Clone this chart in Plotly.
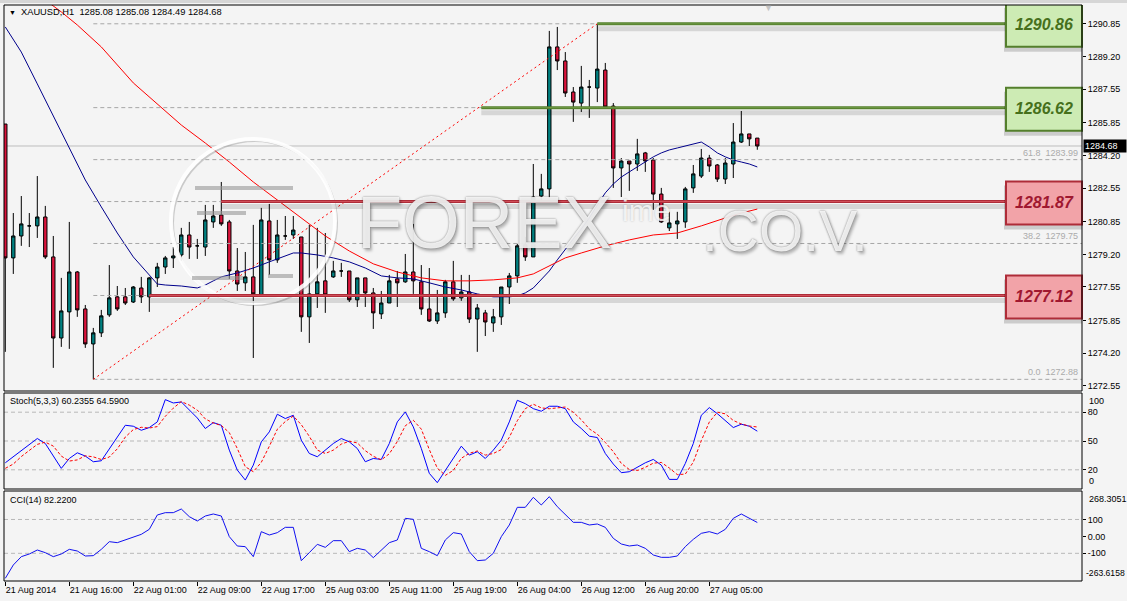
import plotly.graph_objects as go

# ---------------- data ----------------
bar_index = list(range(95))
open_ = [1285.79, 1279.02, 1280.13, 1280.64, 1280.64, 1281.09, 1279.07, 1274.97, 1276.29, 1278.31,
         1276.44, 1274.67, 1275.23, 1276.14, 1277.05, 1277.05, 1276.79, 1277.50, 1277.05, 1278.01,
         1278.56, 1279.02, 1279.17, 1280.18, 1279.63, 1279.57, 1280.84, 1281.19, 1280.84, 1278.36,
         1277.76, 1278.06, 1277.15, 1280.89, 1278.92, 1280.13, 1280.18, 1280.08, 1276.04, 1277.20,
         1277.86, 1278.06, 1278.36, 1278.36, 1276.90, 1278.01, 1277.25, 1276.19, 1276.74, 1277.96,
         1277.81, 1278.31, 1277.81, 1276.44, 1275.83, 1276.24, 1277.81, 1277.00, 1277.30, 1275.93,
         1276.24, 1275.73, 1276.04, 1277.55, 1278.11, 1279.68, 1279.07, 1282.15, 1282.51, 1289.69,
         1288.98, 1287.41, 1286.85, 1287.66, 1287.61, 1288.52, 1286.70, 1283.57, 1283.92, 1283.77,
         1284.33, 1283.97, 1282.25, 1280.54, 1280.74, 1280.84, 1282.56, 1283.16, 1284.07, 1283.72,
         1283.01, 1283.77, 1284.88, 1285.29, 1285.08]
high = [1285.79, 1281.29, 1282.15, 1281.29, 1283.16, 1281.65, 1280.13, 1278.01, 1280.84, 1278.36,
        1276.64, 1275.48, 1276.39, 1278.66, 1277.60, 1277.50, 1277.60, 1278.06, 1278.06, 1278.77,
        1279.12, 1279.57, 1280.54, 1280.84, 1279.98, 1281.70, 1281.70, 1282.86, 1280.94, 1279.52,
        1279.32, 1280.69, 1281.55, 1281.75, 1280.94, 1281.14, 1281.14, 1280.08, 1280.69, 1280.54,
        1280.28, 1278.87, 1278.77, 1278.36, 1278.01, 1278.01, 1277.50, 1277.35, 1278.16, 1278.36,
        1279.22, 1280.74, 1278.66, 1278.51, 1277.40, 1277.91, 1278.87, 1278.16, 1278.16, 1276.69,
        1276.39, 1276.44, 1277.55, 1278.26, 1279.73, 1280.08, 1283.77, 1283.27, 1290.50, 1290.70,
        1289.43, 1287.66, 1288.73, 1288.02, 1290.86, 1288.88, 1286.85, 1284.07, 1283.92, 1285.04,
        1284.38, 1284.07, 1282.56, 1281.35, 1281.35, 1282.61, 1283.72, 1284.53, 1284.23, 1283.77,
        1284.07, 1285.84, 1286.45, 1285.29, 1285.08]
low = [1274.27, 1278.21, 1279.63, 1279.57, 1280.03, 1278.97, 1273.46, 1274.52, 1274.42, 1276.04,
       1274.47, 1272.88, 1275.02, 1276.04, 1276.34, 1276.64, 1276.74, 1276.74, 1276.29, 1277.55,
       1278.21, 1278.51, 1278.87, 1278.97, 1278.97, 1279.12, 1280.54, 1280.64, 1277.96, 1277.35,
       1277.35, 1273.96, 1277.10, 1278.16, 1278.77, 1279.93, 1279.98, 1275.28, 1274.72, 1276.49,
       1276.24, 1278.01, 1278.06, 1276.79, 1276.54, 1276.54, 1275.43, 1275.93, 1276.74, 1276.54,
       1277.76, 1277.20, 1276.14, 1275.78, 1275.68, 1275.99, 1276.85, 1276.85, 1275.73, 1274.27,
       1275.07, 1275.28, 1275.63, 1276.69, 1277.76, 1278.87, 1279.07, 1281.90, 1282.05, 1288.52,
       1287.16, 1285.90, 1286.40, 1286.10, 1286.90, 1286.60, 1282.56, 1282.10, 1282.41, 1283.42,
       1283.37, 1281.45, 1280.79, 1280.38, 1279.98, 1280.54, 1282.31, 1283.06, 1283.37, 1282.86,
       1282.76, 1283.06, 1284.83, 1284.68, 1284.49]
close = [1279.02, 1280.13, 1280.74, 1280.64, 1281.09, 1279.07, 1274.97, 1276.34, 1278.31, 1276.39,
         1274.67, 1275.23, 1276.09, 1277.00, 1276.44, 1276.74, 1277.55, 1277.05, 1278.01, 1278.56,
         1279.02, 1279.12, 1280.18, 1279.57, 1279.63, 1280.94, 1281.14, 1280.74, 1278.36, 1277.70,
         1278.06, 1277.20, 1280.94, 1278.92, 1280.18, 1280.13, 1280.43, 1276.04, 1277.20, 1277.81,
         1277.15, 1278.36, 1278.36, 1276.90, 1278.01, 1277.25, 1276.24, 1276.74, 1277.86, 1277.76,
         1278.31, 1277.86, 1276.44, 1275.83, 1276.24, 1277.81, 1276.95, 1277.30, 1275.93, 1276.49,
         1275.78, 1276.04, 1277.55, 1278.11, 1279.63, 1279.07, 1282.10, 1282.51, 1289.69, 1288.98,
         1287.36, 1286.90, 1287.66, 1287.66, 1288.57, 1286.65, 1283.57, 1283.92, 1283.77, 1284.28,
         1283.92, 1282.25, 1280.84, 1280.79, 1280.89, 1282.51, 1283.27, 1284.07, 1283.67, 1283.01,
         1283.82, 1284.88, 1285.29, 1285.04, 1284.68]

ma_blue_bars = [0, 2, 4, 6, 8, 10, 12, 14, 16, 18, 19, 20, 22, 24, 25, 26, 27, 29, 31, 33, 35, 36, 37,
                39, 41, 43, 45, 47, 49, 51, 53, 55, 57, 59, 61, 63, 64, 65, 66, 67, 68, 69, 70, 71, 72,
                73, 74, 75, 76, 77, 78, 79, 80, 81, 82, 83, 84, 85, 86, 87, 88, 89, 90, 91, 92, 93, 94]
ma_blue = [1290.70, 1289.43, 1287.82, 1286.20, 1284.58, 1282.96, 1281.60, 1280.28, 1279.07, 1278.16,
           1277.70, 1277.65, 1277.60, 1277.50, 1277.65, 1277.86, 1278.06, 1278.26, 1278.51, 1278.82,
           1279.12, 1279.27, 1279.27, 1279.17, 1279.02, 1278.82, 1278.51, 1278.11, 1278.01, 1277.96,
           1277.76, 1277.55, 1277.40, 1277.20, 1277.05, 1277.05, 1277.10, 1277.25, 1277.50, 1277.91,
           1278.36, 1278.92, 1279.47, 1279.98, 1280.48, 1281.04, 1281.70, 1282.31, 1282.76, 1283.11,
           1283.37, 1283.62, 1283.87, 1284.13, 1284.33, 1284.48, 1284.58, 1284.68, 1284.78, 1284.88,
           1284.63, 1284.33, 1284.13, 1283.97, 1283.87, 1283.77, 1283.62]
ma_red_bars = [5, 7, 9, 12, 16, 19, 22, 25, 28, 31, 34, 37, 40, 43, 46, 49, 52, 55, 58, 61, 64, 66, 68,
               70, 72, 75, 78, 81, 84, 87, 90, 92, 94]
ma_red = [1292.06, 1291.46, 1290.80, 1289.69, 1287.87, 1286.80, 1285.74, 1284.83, 1283.87, 1282.86,
          1281.95, 1281.04, 1280.13, 1279.37, 1278.72, 1278.31, 1278.01, 1277.86, 1277.86, 1277.91,
          1278.01, 1278.21, 1278.61, 1279.02, 1279.27, 1279.63, 1279.93, 1280.18, 1280.28, 1280.64,
          1281.04, 1281.29, 1281.49]

stoch_k = [27.3, 33.6, 40.5, 46.5, 52.6, 47.4, 34.0, 21.5, 31.8, 37.7,
           34.3, 28.4, 29.4, 42.0, 54.0, 66.4, 65.4, 61.2, 64.0, 69.9,
           93.1, 89.6, 90.7, 82.0, 74.0, 63.0, 69.2, 66.4, 40.5, 19.7,
           9.3, 24.9, 49.1, 59.5, 77.9, 73.4, 76.8, 50.9, 37.0, 33.6,
           40.5, 47.4, 52.6, 49.1, 42.2, 28.4, 31.8, 30.8, 47.4, 69.9,
           80.3, 64.7, 42.2, 16.3, 6.6, 19.7, 31.8, 44.6, 35.3, 38.8,
           31.8, 40.5, 50.9, 69.9, 92.4, 88.9, 83.7, 81.0, 86.2, 86.2,
           83.7, 69.9, 63.0, 55.0, 53.6, 37.0, 26.0, 17.0, 18.0, 22.5,
           27.3, 30.8, 24.9, 10.0, 10.0, 26.6, 47.4, 76.8, 84.8, 78.5,
           71.6, 64.0, 67.5, 65.4, 60.24]
stoch_d = [21.5, 26.0, 33.8, 40.2, 46.5, 48.8, 44.7, 34.3, 29.1, 30.3,
           34.6, 33.5, 30.7, 33.3, 41.8, 54.1, 61.9, 64.3, 63.5, 65.0,
           75.7, 84.2, 91.1, 87.4, 82.2, 73.0, 68.7, 66.2, 58.7, 42.2,
           23.2, 18.0, 27.8, 44.5, 62.2, 70.3, 76.0, 67.0, 54.9, 40.5,
           37.0, 40.5, 46.8, 49.7, 48.0, 39.9, 34.1, 30.3, 36.7, 49.4,
           65.9, 71.6, 62.4, 41.1, 21.7, 14.2, 19.4, 32.0, 37.2, 39.6,
           35.3, 37.0, 41.1, 53.8, 71.1, 83.7, 88.3, 84.5, 83.6, 84.5,
           85.4, 79.9, 72.2, 62.6, 57.2, 48.5, 38.9, 26.7, 20.3, 19.2,
           22.6, 26.9, 27.7, 21.9, 15.0, 15.5, 28.0, 50.3, 69.7, 80.0,
           78.3, 71.4, 67.7, 65.6, 64.59]
cci = [-247.8, -169.0, -119.8, -104.0, -80.4, -96.2, -119.8, -104.0, -76.5, -86.3,
       -115.9, -113.9, -76.5, -31.1, -37.1, -21.3, -1.6, 12.2, 41.8, 126.5,
       140.3, 140.3, 161.9, 116.6, 91.0, 120.5, 132.4, 120.5, -1.6, -56.7,
       -60.7, -119.8, 28.0, 8.3, 22.1, 53.6, 53.6, -143.4, -96.2, -46.9,
       -64.6, -25.2, -25.2, -90.2, -70.5, -80.4, -125.7, -80.4, -37.1, -21.3,
       106.8, 100.8, -70.5, -90.2, -113.9, -21.3, 22.1, 14.2, -90.2, -143.4,
       -139.5, -100.1, -1.6, 67.4, 171.8, 171.8, 230.9, 185.6, 234.8, 175.7,
       126.5, 83.1, 83.1, 67.4, 73.3, 53.6, -11.4, -45.0, -56.7, -50.8,
       -70.5, -109.9, -123.7, -123.7, -115.9, -60.7, -17.4, 18.1, 28.0, 14.2,
       41.8, 106.8, 132.4, 106.8, 82.22]

time_tick_bars = [0, 8, 16, 24, 32, 40, 48, 56, 64, 72, 80, 88]
time_tick_labels = ["21 Aug 2014", "21 Aug 16:00", "22 Aug 01:00", "22 Aug 09:00", "22 Aug 17:00",
                    "25 Aug 03:00", "25 Aug 11:00", "25 Aug 19:00", "26 Aug 04:00", "26 Aug 12:00",
                    "26 Aug 20:00", "27 Aug 05:00"]
price_ticks = [1290.85, 1289.20, 1287.55, 1285.85, 1284.20, 1282.55, 1280.85, 1279.20, 1277.55,
               1275.85, 1274.20, 1272.55]
price_tick_labels = ["1290.85", "1289.20", "1287.55", "1285.85", "1284.20", "1282.55", "1280.85",
                     "1279.20", "1277.55", "1275.85", "1274.20", "1272.55"]
price_range = [1272.29, 1291.81]

fib_anchor_bars = [11, 74]
fib_anchor_prices = [1272.88, 1290.86]
fib_ratios = ["0.0", "23.6", "38.2", "50.0", "61.8", "76.4", "100.0"]
fib_prices = [1272.88, 1277.12, 1279.75, 1281.87, 1283.99, 1286.62, 1290.86]
fib_labelled = ["0.0", "38.2", "61.8"]

levels = [1290.86, 1286.62, 1281.87, 1277.12]
level_kind = ["resistance", "resistance", "support", "support"]
level_start_bar = [74, 59.5, 27, 18]

last_price = 1284.68
main_title = "XAUUSD,H1  1285.08 1285.08 1284.49 1284.68"
stoch_title = "Stoch(5,3,3) 60.2355 64.5900"
cci_title = "CCI(14) 82.2200"
stoch_levels = [20, 50, 80]
stoch_ticks = [80, 50, 20]
cci_levels = [100, -100]
cci_ticks = [100, 0, -100]
cci_tick_labels = ["100", "0.00", "-100"]
cci_range = [-263.6158, 268.3051]

# ---------------- layout geometry ----------------
W, H = 1127, 601
PL, PR, PT, PB = 4, 1082, 5, 581
X_MIN = (PL - 5.3) / 8.0
X_MAX = (PR - 5.3) / 8.0
FONT = "Tahoma, 'Liberation Sans', Arial, sans-serif"
WM_FONT = "'Liberation Sans', Arial"
WM_SHADOW = "0px 0px 2px rgba(70,70,70,0.85), 2px 3px 3px rgba(0,0,0,0.30)"


def px(x):
    return (x - PL) / (PR - PL)


def py(y):
    return (PB - y) / (PB - PT)


MAIN_DOM = [py(391), 1.0]
STOCH_DOM = [py(489), py(393)]
CCI_DOM = [0.0, py(491)]

fig = go.Figure()

fig.add_trace(go.Candlestick(
    x=bar_index, open=open_, high=high, low=low, close=close,
    increasing=dict(line=dict(color="#000000", width=1), fillcolor="#008080"),
    decreasing=dict(line=dict(color="#000000", width=1), fillcolor="#dc143c"),
    whiskerwidth=0, hoverinfo="skip", showlegend=False, xaxis="x", yaxis="y"))
fig.add_trace(go.Scatter(x=ma_blue_bars, y=ma_blue, mode="lines",
                         line=dict(color="#00008b", width=1), hoverinfo="skip", yaxis="y"))
fig.add_trace(go.Scatter(x=ma_red_bars, y=ma_red, mode="lines",
                         line=dict(color="#ff0000", width=1), hoverinfo="skip", yaxis="y"))
fig.add_trace(go.Scatter(x=bar_index, y=stoch_k, mode="lines",
                         line=dict(color="#0000ff", width=1), hoverinfo="skip", yaxis="y2"))
fig.add_trace(go.Scatter(x=bar_index, y=stoch_d, mode="lines",
                         line=dict(color="#ff0000", width=1, dash="3px,2px"), hoverinfo="skip", yaxis="y2"))
fig.add_trace(go.Scatter(x=bar_index, y=cci, mode="lines",
                         line=dict(color="#1010f0", width=1), hoverinfo="skip", yaxis="y3"))

shapes = []
# current price line
shapes.append(dict(type="line", xref="x domain", x0=0, x1=1, yref="y", y0=last_price, y1=last_price,
                   line=dict(color="#bdbdbd", width=1), layer="below"))
# fibonacci levels
for r, p in zip(fib_ratios, fib_prices):
    shapes.append(dict(type="line", xref="x", x0=fib_anchor_bars[0], x1=X_MAX, yref="y", y0=p, y1=p,
                       line=dict(color="#a6a6a6", width=1, dash="4px,3px"), layer="above"))
shapes.append(dict(type="line", xref="x", x0=fib_anchor_bars[0], x1=fib_anchor_bars[1], yref="y",
                   y0=fib_anchor_prices[0], y1=fib_anchor_prices[1],
                   line=dict(color="#ff0000", width=1, dash="2px,3px"), layer="above"))
# indicator grid lines
for v in stoch_levels:
    shapes.append(dict(type="line", xref="x domain", x0=0, x1=1, yref="y2", y0=v, y1=v,
                       line=dict(color="#b8b8b8", width=1, dash="4px,3px"), layer="below"))
for v in cci_levels:
    shapes.append(dict(type="line", xref="x domain", x0=0, x1=1, yref="y3", y0=v, y1=v,
                       line=dict(color="#b8b8b8", width=1, dash="4px,3px"), layer="below"))

# watermark logo (circle + bars)
shapes.append(dict(type="circle", xref="paper", yref="paper", x0=px(173), x1=px(337), y0=py(305), y1=py(141),
                   line=dict(color="rgba(140,140,140,0.40)", width=2), layer="above"))
shapes.append(dict(type="circle", xref="paper", yref="paper", x0=px(171), x1=px(335), y0=py(303), y1=py(139),
                   line=dict(color="rgba(255,255,255,0.9)", width=4), layer="above"))
for (xa, xb, yy) in [(195, 293, 188), (197, 246, 213), (192, 243, 278), (268, 293, 276)]:
    shapes.append(dict(type="line", xref="paper", yref="paper", x0=px(xa), x1=px(xb), y0=py(yy), y1=py(yy),
                       line=dict(color="rgba(150,150,150,0.6)", width=4), layer="above"))

# support / resistance levels with boxes
for lv, kind, sb in zip(levels, level_kind, level_start_bar):
    if kind == "resistance":
        dark, light, fill = "#547f2c", "#6f9a45", "#cdebb4"
    else:
        dark, light, fill = "#ae2c38", "#d2505c", "#f2a3a8"
    shapes.append(dict(type="line", xref="x", x0=sb, x1=X_MAX, yref="y", ysizemode="pixel", yanchor=lv,
                       y0=-5, y1=-5, line=dict(color="rgba(0,0,0,0.12)", width=5), layer="above"))
    shapes.append(dict(type="line", xref="x", x0=sb, x1=X_MAX, yref="y", y0=lv, y1=lv,
                       line=dict(color=dark, width=3), layer="above"))
    shapes.append(dict(type="line", xref="x", x0=sb, x1=X_MAX, yref="y", y0=lv, y1=lv,
                       line=dict(color=light, width=1), layer="above"))
    shapes.append(dict(type="rect", xref="paper", x0=px(1004), x1=1.0, yref="y", ysizemode="pixel",
                       yanchor=lv, y0=16, y1=-28, fillcolor="rgba(0,0,0,0.16)",
                       line=dict(width=0), layer="above"))
    shapes.append(dict(type="rect", xref="paper", x0=px(1006), x1=1.0, yref="y", ysizemode="pixel",
                       yanchor=lv, y0=20, y1=-23, fillcolor=fill,
                       line=dict(color=dark, width=2), layer="above"))

# panel borders
for yr in ["y", "y2", "y3"]:
    shapes.append(dict(type="rect", xref="x domain", x0=0, x1=1, yref=yr + " domain", y0=0, y1=1,
                       line=dict(color="#000000", width=1), layer="above"))
# window frame band at top
shapes.append(dict(type="rect", xref="paper", yref="paper", x0=-PL / (PR - PL), x1=(W - PL) / (PR - PL),
                   y0=py(3), y1=py(0), fillcolor="#d6d6d6", line=dict(width=0), layer="above"))

ann = []
# watermark text
ann.append(dict(text="FOREX", xref="paper", yref="paper", x=px(355), y=py(222), xanchor="left",
                yanchor="middle", showarrow=False,
                font=dict(family=WM_FONT, size=74, color="rgba(255,255,255,0.85)", shadow=WM_SHADOW)))
ann.append(dict(text="ime", xref="paper", yref="paper", x=px(620), y=py(210), xanchor="left",
                yanchor="middle", showarrow=False,
                font=dict(family=WM_FONT, size=30, color="rgba(255,255,255,0.8)",
                          shadow="0px 0px 2px rgba(120,120,120,0.6)")))
ann.append(dict(text=".CO.V.", xref="paper", yref="paper", x=px(700), y=py(231), xanchor="left",
                yanchor="middle", showarrow=False,
                font=dict(family=WM_FONT, size=57, color="rgba(255,255,255,0.85)", shadow=WM_SHADOW)))
# titles
ann.append(dict(text="▼", xref="paper", yref="paper", x=px(12), y=py(12), xanchor="center", yanchor="middle",
                showarrow=False, font=dict(size=7, color="#000000")))
ann.append(dict(text=main_title, xref="paper", yref="paper", x=px(19), y=py(12), xanchor="left",
                yanchor="middle", showarrow=False, font=dict(size=9.3, color="#000000", family=FONT)))
ann.append(dict(text=stoch_title, xref="paper", yref="paper", x=px(8), y=py(401), xanchor="left",
                yanchor="middle", showarrow=False, font=dict(size=9, color="#000000", family=FONT)))
ann.append(dict(text=cci_title, xref="paper", yref="paper", x=px(8), y=py(500), xanchor="left",
                yanchor="middle", showarrow=False, font=dict(size=9, color="#000000", family=FONT)))
ann.append(dict(text="▼", xref="paper", yref="paper", x=px(768), y=py(8), xanchor="center", yanchor="middle",
                showarrow=False, font=dict(size=9, color="#c4c4c4")))
# fib labels
for r, p in zip(fib_ratios, fib_prices):
    if r in fib_labelled:
        ann.append(dict(text=f"{r}  {p:.2f}", xref="paper", x=px(1080), xanchor="right", yref="y", y=p,
                        yanchor="bottom", yshift=0, showarrow=False,
                        font=dict(size=9, color="#ababab", family=FONT)))
# level box labels
for lv, kind in zip(levels, level_kind):
    txt = "#46701c" if kind == "resistance" else "#a01830"
    ann.append(dict(text=f"<b><i>{lv:.2f}</i></b>", xref="paper", x=px(1044), xanchor="center", yref="y", y=lv,
                    yanchor="middle", yshift=-1, showarrow=False,
                    font=dict(size=16, color=txt, family="'Liberation Sans', Arial")))
# last price tag
ann.append(dict(text=f"{last_price:.2f}", xref="paper", x=1.0, xanchor="left", xshift=1, yref="y", y=last_price,
                yanchor="middle", showarrow=False, bgcolor="#000000", borderpad=1, width=40, align="left",
                font=dict(size=9, color="#ffffff", family=FONT)))
# edge labels for indicator axes
ann.append(dict(text="100", xref="paper", x=1.0, xanchor="left", xshift=5, yref="y2", y=100, yanchor="top",
                yshift=-1, showarrow=False, font=dict(size=9, color="#000000", family=FONT)))
ann.append(dict(text="0", xref="paper", x=1.0, xanchor="left", xshift=5, yref="y2", y=0, yanchor="bottom",
                yshift=1, showarrow=False, font=dict(size=9, color="#000000", family=FONT)))
ann.append(dict(text=f"{cci_range[1]:.4f}", xref="paper", x=1.0, xanchor="left", xshift=5, yref="y3",
                y=cci_range[1], yanchor="top", yshift=-1, showarrow=False,
                font=dict(size=9, color="#000000", family=FONT)))
ann.append(dict(text=f"{cci_range[0]:.4f}", xref="paper", x=1.0, xanchor="left", xshift=2, yref="y3",
                y=cci_range[0], yanchor="bottom", yshift=1, showarrow=False,
                font=dict(size=8.6, color="#000000", family=FONT)))

axis_common = dict(side="right", anchor="x", ticks="outside", ticklen=3, tickcolor="#000000",
                   showgrid=False, zeroline=False, showline=False, fixedrange=True,
                   tickfont=dict(size=9, color="#000000", family=FONT))

fig.update_layout(
    width=W, height=H,
    margin=dict(l=PL, r=W - PR, t=PT, b=H - PB, autoexpand=False),
    paper_bgcolor="#f4f4f4", plot_bgcolor="#f4f4f4",
    showlegend=False, boxgap=0.4, hovermode=False,
    font=dict(family=FONT, size=9, color="#000000"),
    xaxis=dict(range=[X_MIN, X_MAX], anchor="y3", tickmode="array", tickvals=time_tick_bars,
               ticktext=time_tick_labels, ticks="outside", ticklen=4, tickcolor="#000000",
               ticklabelposition="outside right", showgrid=False, zeroline=False, showline=False,
               rangeslider=dict(visible=False), fixedrange=True,
               tickfont=dict(size=9, color="#000000", family=FONT)),
    yaxis=dict(domain=MAIN_DOM, range=price_range, tickmode="array", tickvals=price_ticks,
               ticktext=price_tick_labels, **axis_common),
    yaxis2=dict(domain=STOCH_DOM, range=[0, 100], tickmode="array", tickvals=stoch_ticks,
                ticktext=[str(v) for v in stoch_ticks], **axis_common),
    yaxis3=dict(domain=CCI_DOM, range=cci_range, tickmode="array", tickvals=cci_ticks,
                ticktext=cci_tick_labels, **axis_common),
    shapes=shapes, annotations=ann,
)

fig.write_html("out.html")
